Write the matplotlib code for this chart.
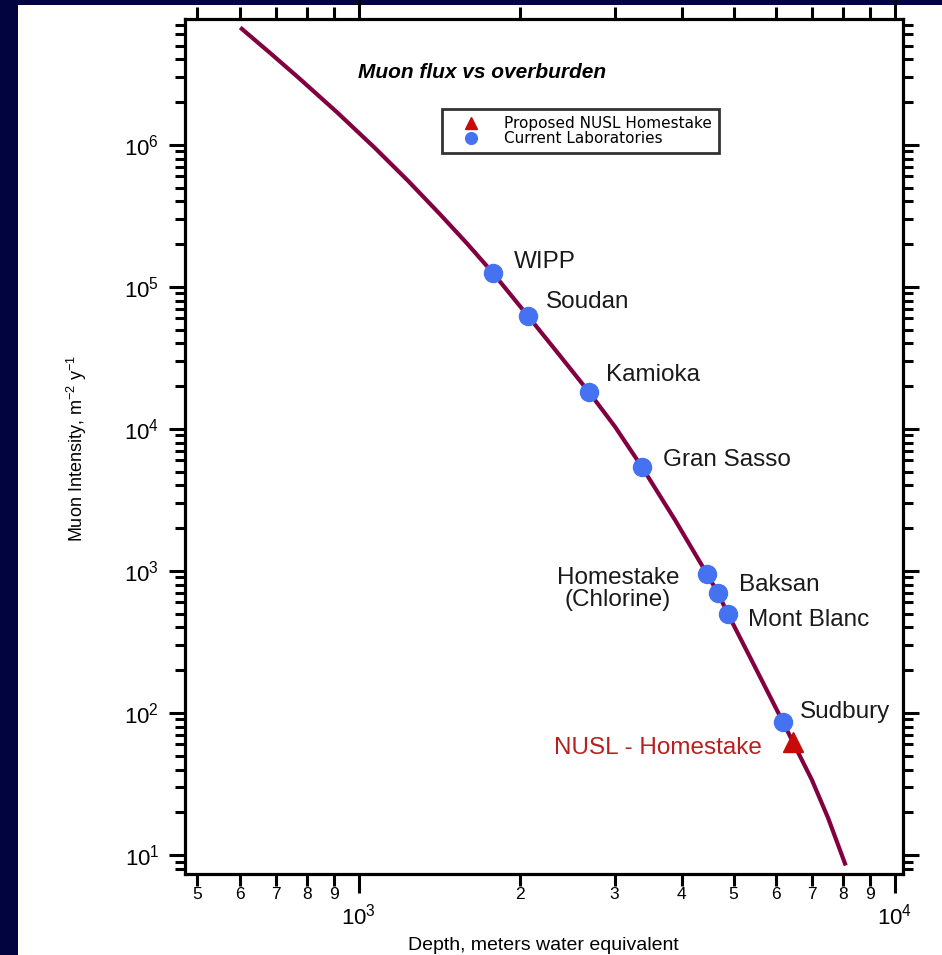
import numpy as np
import matplotlib
matplotlib.use("Agg")
import matplotlib.pyplot as plt
from matplotlib.patches import Rectangle
from matplotlib.ticker import LogLocator, LogFormatterSciNotation, FuncFormatter, NullFormatter

plt.rcParams['font.family'] = ['Liberation Sans', 'DejaVu Sans']
plt.rcParams['mathtext.default'] = 'regular'

# depth-intensity curve (m.w.e., muons m^-2 y^-1)
curve_depth = [605, 685, 776, 914, 1071, 1234, 1416, 1590, 1778, 2067, 2351, 2686, 3003,
               3373, 3888, 4460, 4675, 4880, 5481, 6180, 6450, 7000, 7499, 8067]
curve_flux = [6.56e6, 4.40e6, 2.92e6, 1.675e6, 9.53e5, 5.61e5, 3.26e5, 2.03e5, 1.256e5, 6.25e4,
              3.42e4, 1.82e4, 1.04e4, 5395, 2286, 953, 700, 498, 211, 86.5, 62.5, 33.7, 18.3, 8.71]

# current laboratories
lab_names = ['WIPP', 'Soudan', 'Kamioka', 'Gran Sasso', 'Homestake\n(Chlorine)',
             'Baksan', 'Mont Blanc', 'Sudbury']
lab_depth = [1778, 2067, 2686, 3373, 4460, 4675, 4880, 6180]
lab_flux = [1.256e5, 6.25e4, 1.82e4, 5395, 953, 700, 498, 86.5]

# proposed site
nusl_depth = [6450]
nusl_flux = [62.5]

NAVY = '#02043f'
CURVE = '#820040'
BLUE = '#4472f0'
RED = '#c80a0a'

W, H = 942, 955
fig = plt.figure(figsize=(W / 100, H / 100), dpi=100, facecolor=NAVY)
fig.patches.append(Rectangle((18 / W, 0), 1, (H - 5) / H, transform=fig.transFigure,
                             facecolor='white', edgecolor='none', zorder=-1))

ax = fig.add_axes([185 / W, (H - 874) / H, (903 - 185) / W, (874 - 19) / H])
ax.set_xscale('log')
ax.set_yscale('log')
XLIM = (474, 10349)
ax.set_xlim(*XLIM)
ax.set_ylim(7.35, 7.7e6)

ax.plot(curve_depth, curve_flux, color=CURVE, lw=3, solid_joinstyle='round', zorder=2)
ax.plot(lab_depth, lab_flux, 'o', color=BLUE, ms=13, mec=BLUE, ls='none',
        label='Current Laboratories', zorder=3)
ax.plot(nusl_depth, nusl_flux, '^', color=RED, ms=14, mec=RED, ls='none',
        label='Proposed NUSL Homestake', zorder=3)

# lab labels: offsets in pixels from the markers
offsets = [(21, 11), (18, 14), (17, 17), (21, 7), (-89, -15), (21, 8), (20, -6), (17, 10)]
for name, d, f, off in zip(lab_names, lab_depth, lab_flux, offsets):
    ha = 'center' if '\n' in name else 'left'
    ax.annotate(name, (d, f), xytext=off, textcoords='offset pixels', ha=ha, va='center',
                fontsize=17.5, color='#1a1a1a', linespacing=1.0)
ax.annotate('NUSL - Homestake', (nusl_depth[0], nusl_flux[0]), xytext=(-31, -6),
            textcoords='offset pixels', ha='right', va='center', fontsize=17.5, color='#b82020')

ax.text(0.4135, 0.938, 'Muon flux vs overburden', transform=ax.transAxes, ha='center', va='center',
        fontsize=15, fontweight='bold', fontstyle='italic')

handles, labels = ax.get_legend_handles_labels()
leg = ax.legend(handles[::-1], labels[::-1], loc='upper left', bbox_to_anchor=(0.358, 0.8947),
                borderaxespad=0, markerscale=0.65, frameon=True, fancybox=False,
                prop={'family': 'DejaVu Sans', 'size': 11},
                borderpad=0.45, handlelength=2.9, handletextpad=0.7, labelspacing=0.0)
leg.get_frame().set_edgecolor('black')
leg.get_frame().set_linewidth(2)

# ticks
for s in ax.spines.values():
    s.set_linewidth(2.3)


def minor_label(v, pos):
    if v < XLIM[0] or v > XLIM[1]:
        return ''
    return '%d' % round(v / 10 ** np.floor(np.log10(v) + 1e-9))


ax.xaxis.set_major_locator(LogLocator(base=10, numticks=10))
ax.xaxis.set_minor_locator(LogLocator(base=10, subs=np.arange(2, 10), numticks=20))
ax.xaxis.set_major_formatter(LogFormatterSciNotation())
ax.xaxis.set_minor_formatter(FuncFormatter(minor_label))
ax.yaxis.set_major_locator(LogLocator(base=10, numticks=12))
ax.yaxis.set_minor_locator(LogLocator(base=10, subs=np.arange(2, 10), numticks=20))
ax.yaxis.set_minor_formatter(NullFormatter())

ax.tick_params(which='both', direction='out', top=True, right=True, width=2.2, colors='black')
ax.tick_params(axis='x', which='major', length=14, pad=7, labelsize=16)
ax.tick_params(axis='x', which='minor', length=8.5, pad=1, labelsize=12.5)
ax.tick_params(axis='y', which='major', length=11.5, pad=7, labelsize=16)
ax.tick_params(axis='y', which='minor', length=7)

fig.text(77 / W, (H - 448) / H, 'Muon Intensity, m$^{-2}$ y$^{-1}$', rotation=90,
         ha='center', va='center', fontsize=13)
fig.text(543 / W, (H - 945) / H, 'Depth, meters water equivalent', ha='center', va='center',
         fontsize=14)

# hide tick objects that fall outside the axis range
fig.canvas.draw()
for axis, lim in ((ax.xaxis, XLIM), (ax.yaxis, ax.get_ylim())):
    for tick in axis.get_major_ticks() + axis.get_minor_ticks():
        if not (lim[0] * 0.999 <= tick.get_loc() <= lim[1] * 1.001):
            tick.set_visible(False)

fig.savefig('out.png', dpi=100, facecolor=fig.get_facecolor())
